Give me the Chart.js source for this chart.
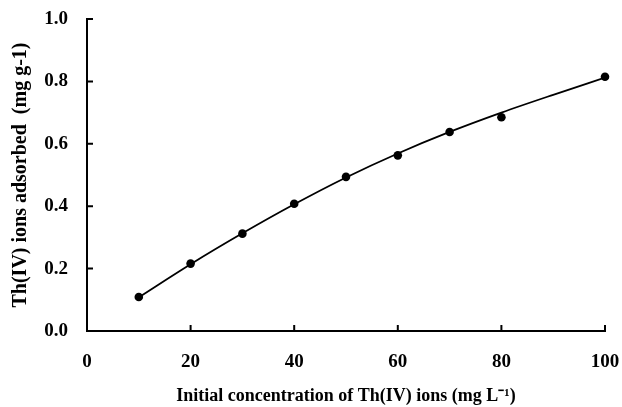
<!DOCTYPE html>
<html lang="en">
<head>
  <meta charset="UTF-8">
  <title>Th(IV) adsorption vs initial concentration</title>
  <script src="https://cdn.jsdelivr.net/npm/chart.js"></script>
  <style>
    *{margin:0;padding:0;box-sizing:border-box}
    body{background:#fff;width:622px;height:407px;overflow:hidden}
    #chart{display:block}
  </style>
</head>
<body>
  <canvas id="chart" width="622" height="407"></canvas>
  <script>
    // measured points: initial concentration (mg/L) vs amount adsorbed (mg/g)
    const concentration = [10, 20, 30, 40, 50, 60, 70, 80, 100];
    const adsorbed      = [0.109, 0.216, 0.312, 0.408, 0.494, 0.563, 0.638, 0.685, 0.815];

    // fitted curve, read at every 10 mg/L
    const fitConc  = [10, 20, 30, 40, 50, 60, 70, 80, 90, 100];
    const fitValue = [0.108, 0.214, 0.313, 0.406, 0.492, 0.569, 0.638, 0.700, 0.757, 0.812];

    const xTicks = [0, 20, 40, 60, 80, 100];
    const yTicks = [0.0, 0.2, 0.4, 0.6, 0.8, 1.0];

    const serif = "'Liberation Serif', 'Times New Roman', serif";

    // tick marks point into the plot area
    const innerTicks = {
      id: 'innerTicks',
      afterDraw(chart) {
        const {ctx, chartArea: a, scales: {x, y}} = chart;
        ctx.save();
        ctx.strokeStyle = '#000';
        ctx.lineWidth = 2;
        ctx.beginPath();
        xTicks.forEach(v => {
          const px = x.getPixelForValue(v);
          ctx.moveTo(px, a.bottom);
          ctx.lineTo(px, a.bottom - 6);
        });
        yTicks.forEach(v => {
          const py = y.getPixelForValue(v);
          ctx.moveTo(a.left, py);
          ctx.lineTo(a.left + 6, py);
        });
        ctx.stroke();
        ctx.restore();
      }
    };

    new Chart(document.getElementById('chart'), {
      type: 'line',
      data: {
        datasets: [
          {
            label: 'fit',
            data: fitConc.map((c, i) => ({x: c, y: fitValue[i]})),
            borderColor: '#000',
            borderWidth: 1.8,
            pointRadius: 0,
            cubicInterpolationMode: 'monotone',
            fill: false
          },
          {
            label: 'experimental',
            data: concentration.map((c, i) => ({x: c, y: adsorbed[i]})),
            showLine: false,
            pointRadius: 4.3,
            pointBackgroundColor: '#000',
            pointBorderColor: '#000',
            pointBorderWidth: 0,
            clip: false
          }
        ]
      },
      options: {
        responsive: false,
        animation: false,
        layout: {padding: {top: 19, right: 17, left: 0, bottom: 0}},
        plugins: {legend: {display: false}, tooltip: {enabled: false}},
        scales: {
          x: {
            type: 'linear',
            min: 0, max: 100,
            afterFit(s) { s.height = 76; s.paddingLeft = 0; s.paddingRight = 0; },
            afterBuildTicks(s) { s.ticks = xTicks.map(v => ({value: v})); },
            grid: {display: false, drawTicks: false},
            border: {display: true, color: '#000', width: 2},
            ticks: {color: '#000', padding: 20, font: {family: serif, size: 19, weight: 'bold'}},
            title: {
              display: true,
              text: 'Initial concentration of Th(IV) ions (mg L\u207B\u00B9)',
              color: '#000',
              font: {family: serif, size: 18, weight: 'bold'},
              padding: {top: 0, bottom: 0}
            }
          },
          y: {
            min: 0, max: 1,
            afterFit(s) { s.width = 87; s.paddingTop = 0; s.paddingBottom = 0; },
            afterBuildTicks(s) { s.ticks = yTicks.map(v => ({value: v})); },
            grid: {display: false, drawTicks: false},
            border: {display: true, color: '#000', width: 2},
            ticks: {
              color: '#000', padding: 19,
              font: {family: serif, size: 19, weight: 'bold'},
              callback: v => Number(v).toFixed(1)
            },
            title: {
              display: true,
              text: 'Th(IV) ions adsorbed  (mg g-1)',
              color: '#000',
              font: {family: serif, size: 20, weight: 'bold'},
              padding: {top: 9, bottom: 0}
            }
          }
        }
      },
      plugins: [innerTicks]
    });
  </script>
</body>
</html>
